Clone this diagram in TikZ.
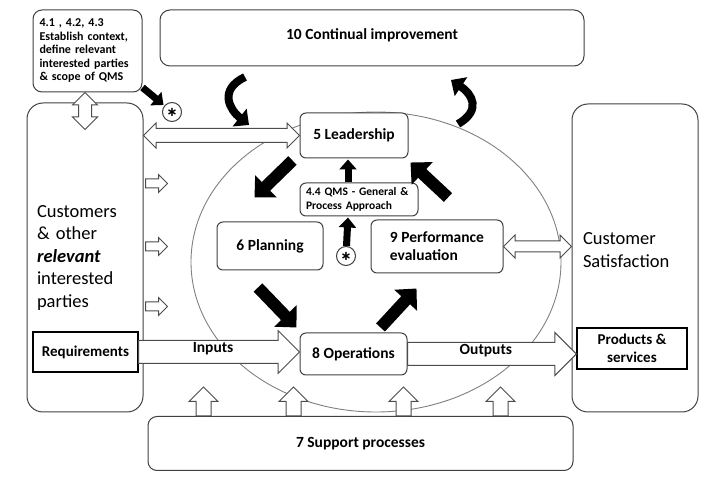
\documentclass[tikz,border=0pt]{standalone}
\usepackage{fontspec}
\setmainfont{Carlito}
\newfontfamily\astfont{DejaVu Sans}
\usetikzlibrary{arrows.meta,shapes.arrows,calc}

\newcommand{\hollowarrow}[3][]{%
  \path let \p1=(#2), \p2=(#3), \n1={veclen(\x2-\x1,\y2-\y1)}, \n2={atan2(\y2-\y1,\x2-\x1)} in
    node[hollow, #1, minimum height=\n1, rotate=\n2, anchor=tail] at (\p1) {};}
\newcommand{\hollowdbl}[3][]{%
  \path let \p1=(#2), \p2=(#3), \n1={veclen(\x2-\x1,\y2-\y1)}, \n2={atan2(\y2-\y1,\x2-\x1)} in
    node[hollowd, #1, minimum height=\n1, rotate=\n2] at ($(\p1)!.5!(\p2)$) {};}

\begin{document}
\begin{tikzpicture}[x=1pt, y=-1pt,
    box/.style={draw=black!75, fill=white, line width=1pt, rounded corners=6pt, align=center,
      font=\bfseries\fontsize{15.5}{18}\selectfont},
    smallbox/.style={box, align=left, font=\bfseries\fontsize{12}{13.5}\selectfont},
    sidebox/.style={draw=black!75, line width=1pt, rounded corners=16pt, align=left,
      minimum width=116pt, minimum height=309pt, font=\fontsize{18.5}{22.5}\selectfont},
    sqbox/.style={draw=black, fill=white, line width=1.3pt, align=center,
      font=\bfseries\fontsize{15}{17.5}\selectfont},
    astbox/.style={circle, draw=black!75, fill=white, line width=1pt, minimum size=19pt, inner sep=0pt,
      font=\astfont\bfseries\fontsize{13}{13}\selectfont},
    lbl/.style={font=\bfseries\fontsize{15.5}{18}\selectfont, inner sep=0pt},
    hollow/.style={single arrow, draw=black!70, fill=white, line width=1pt, inner xsep=0pt,
      inner ysep=4pt, outer sep=0pt, single arrow head extend=4.5pt, minimum width=0pt},
    hollowd/.style={double arrow, draw=black!70, fill=white, line width=1pt, inner xsep=0pt,
      inner ysep=6pt, outer sep=0pt, double arrow head extend=6pt, minimum width=0pt},
    widearrow/.style={inner ysep=11pt, single arrow head extend=10pt},
    uparrow/.style={inner ysep=7pt, single arrow head extend=7pt},
    blk/.style={line width=12pt, -{Triangle[length=16pt,width=30pt]}},
    blksmall/.style={line width=7pt, -{Triangle[length=10pt,width=17pt]}, shorten >=1pt},
    blkcurve/.style={line width=8pt, -{Triangle[length=12pt,width=22pt]}}]
\useasboundingbox (0,0) rectangle (713,486);

% the cycle
\draw[gray, line width=0.9pt] (376,262) ellipse [x radius=185pt, y radius=150pt];

% boxes
\node[smallbox, minimum width=109pt, minimum height=82pt, text width=96pt, rounded corners=9pt] (ctx) at (87.5,51)
  {4.1 , 4.2, 4.3\\Establish context,\\define relevant\\interested parties\\\& scope of QMS};
\node[box, minimum width=424pt, minimum height=56pt, rounded corners=10pt, text depth=8pt] (improve) at (372,38) {10 Continual improvement};
\node[sidebox, text width=96pt] (cust) at (85,257.5) {Customers\\\& other\\\textbf{\textit{relevant}}\\interested\\parties};
\node[sqbox, minimum width=105pt, minimum height=40pt] (req) at (85.5,352) {Requirements};
\node[sidebox, minimum width=126pt, minimum height=308pt] (sat) at (635,258) {};
\node[sidebox, draw=none, minimum height=0pt, text width=104pt] (sattxt) at ([yshift=8pt]sat.center) {Customer\\Satisfaction};
\node[sqbox, minimum width=110pt, minimum height=41pt] (prod) at (632,348.5) {Products \&\\services};

\node[box, minimum width=108pt, minimum height=45pt] (lead) at (354,135.5) {5 Leadership};
\node[smallbox, minimum width=118pt, minimum height=33pt, text width=106pt, font=\bfseries\fontsize{11.5}{13.5}\selectfont] (qms) at (359,199.5)
  {4.4 QMS - General \&\\Process Approach};
\node[box, minimum width=106pt, minimum height=48pt] (plan) at (270,246) {6 Planning};
\node[box, minimum width=132pt, minimum height=53pt, align=left] (perf) at (437,246.5) {9 Performance\\evaluation};
\node[box, minimum width=107pt, minimum height=42pt] (ops) at (353.5,354) {8 Operations};
\node[box, minimum width=425pt, minimum height=54pt, rounded corners=9pt] (support) at (360.5,443.5) {7 Support processes};

\node[astbox] (star1) at (172,112) {∗};
\node[astbox] (star2) at (346,256) {∗};

% black arrows
\draw[blksmall] ([yshift=5pt]ctx.south east) -- (star1);
\draw[blksmall] ([xshift=-11pt]qms.north) -- ([xshift=-6pt]lead.south);
\draw[blksmall] (star2) -- ([xshift=-11pt]qms.south);
\draw[blk] ([xshift=-7pt,yshift=-2pt]lead.south west) -- ([xshift=38pt,yshift=24pt]plan.north west);
\draw[blk] ([xshift=-12pt,yshift=-17pt]plan.south) -- ([xshift=-3pt,yshift=5pt]ops.north west);
\draw[blk] ([xshift=-27pt,yshift=5pt]ops.north east) -- ([xshift=46pt,yshift=-15pt]perf.south west);
\draw[blk] ([xshift=11pt,yshift=22pt]perf.north) -- ([xshift=2pt,yshift=-4pt]lead.south east);

\coordinate (lc1) at (245,77);
\coordinate (lc2) at (249,125);
\draw[blkcurve] (lc1) .. controls (218,90) and (230,110) .. (lc2);
\coordinate (rc1) at (458,124);
\coordinate (rc2) at (451,80);
\draw[blkcurve] (rc1) .. controls (482,110) and (472,94) .. (rc2);

% hollow arrows
\hollowdbl{ctx.south -| cust.north}{[yshift=-27pt]cust.north}
\hollowdbl[inner ysep=6.5pt, double arrow head extend=5.5pt]{lead.west -| cust.east}{lead.west}
\hollowdbl[inner ysep=5pt]{perf.east}{perf.east -| sat.west}
\foreach \dy in {74,11,-49}
  \hollowarrow{[shift={(2pt,\dy pt)}]cust.east}{[shift={(24pt,\dy pt)}]cust.east};
\hollowarrow[widearrow]{req.east}{req.east -| ops.west}
\hollowarrow[widearrow]{ops.east}{ops.east -| prod.west}
\foreach \dx in {-157,-67,43,140}
  \hollowarrow[uparrow]{[xshift=\dx pt]support.north}{[xshift=\dx pt,yshift=29pt]support.north};

\node[lbl, xshift=-6pt, yshift=3pt] (inlbl) at ($(req.east)!.5!(req.east -| ops.west)$) {Inputs};
\node[lbl, xshift=-6pt, yshift=3pt] (outlbl) at ($(ops.east)!.5!(ops.east -| prod.west)$) {Outputs};
\end{tikzpicture}
\end{document}
